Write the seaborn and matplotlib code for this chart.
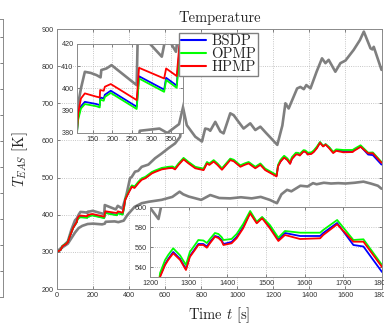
import numpy as np
import pandas as pd
import matplotlib
matplotlib.use("Agg")
import matplotlib.pyplot as plt
import seaborn as sns

# --- Data ---
# time grid shared by the three strategies [s]
TIME = [0, 20, 30, 50, 60, 70, 90, 110, 113, 120, 130, 160, 168, 169, 178, 181, 196,
        262, 268, 332, 337, 364, 372, 378, 396, 415, 430, 452, 470, 490, 526, 544,
        581, 618, 640, 655, 674, 702, 730, 767, 813, 832, 845, 869, 890, 915, 961,
        980, 1017, 1040, 1063, 1100, 1128, 1155, 1218, 1226, 1239, 1247, 1260, 1278,
        1293, 1303, 1316, 1325, 1338, 1347, 1355, 1368, 1377, 1385, 1390, 1411, 1424,
        1441, 1459, 1476, 1490, 1510, 1532, 1549, 1588, 1640, 1648, 1684, 1726, 1752,
        1800]

HPMP = [300, 305, 315, 321, 326, 340, 365, 381, 389, 395.5, 397.8, 396.3, 396, 399.3,
        399, 400.8, 402, 394.8, 409.3, 404.5, 409, 405.6, 422, 440, 458, 475, 472, 485,
        494, 498, 511, 515, 522, 525, 526, 522, 534, 549, 538, 525, 520, 538, 534, 543,
        534, 521, 547, 544, 529, 534, 538, 525, 534, 520, 503, 530, 542, 547, 553.7,
        547, 537, 550, 557, 562, 562, 559.3, 563.7, 570.3, 569, 566, 562, 563.7, 568.7,
        578.7, 593.7, 583.7, 588.7, 578.7, 566, 572, 568, 568.7, 572, 582.7, 565.3,
        565.3, 540]

OPMP = [300, 305, 316, 322, 327, 341, 365, 380, 386, 391, 393, 392, 391.5, 395, 394.5,
        396.2, 398, 390.8, 404.5, 398.5, 403.8, 400.3, 418, 442, 461, 479, 476, 489,
        498, 502, 515, 519, 526, 529, 530, 526, 538, 553, 542, 529, 524, 542, 538, 547,
        538, 525, 551, 548, 533, 538, 542, 529, 538, 524, 507, 534, 547, 552, 558.7,
        551.5, 542, 555, 562, 567, 566.5, 564, 568, 574, 573, 570, 567, 568, 573, 583,
        596, 585.3, 590, 582, 569.3, 576, 574.3, 574.3, 577, 587, 567, 567.7, 542]

BSDP = [300, 305, 315.5, 321.5, 326.5, 340.5, 365, 380.5, 387, 392, 394, 393, 392.5,
        396, 395.5, 397.2, 399, 391.8, 405.5, 399.5, 404.8, 401.3, 420, 441, 459.5, 477,
        474, 487, 496, 500, 513, 517, 524, 527, 528, 524, 536, 551, 540, 527, 522, 540,
        536, 545, 536, 523, 549, 546, 531, 536, 540, 527, 536, 522, 505, 531, 543, 548,
        555, 548, 538, 551, 558, 563, 563, 560.5, 565, 571, 570, 567, 563, 565, 570,
        580, 594.5, 584.5, 589.5, 580.5, 567.5, 574, 571, 571, 574, 584, 562, 560.5, 535]

# upper / lower grey bounds
UPPER_TIME = [0, 30, 60, 80, 100, 110, 120, 130, 145, 160, 170, 172, 185, 198, 262, 265,
              326, 337, 362, 368, 380, 387, 405, 415, 433, 450, 470, 507, 544, 581, 618,
              655, 683, 693, 698, 720, 767, 804, 822, 840, 850, 878, 906, 924, 961, 980,
              1007, 1035, 1072, 1100, 1128, 1160, 1222, 1250, 1267, 1285, 1332, 1350,
              1369, 1383, 1406, 1440, 1470, 1489, 1507, 1544, 1572, 1600, 1646, 1680,
              1702, 1739, 1750, 1757, 1800]
UPPER_TEMP = [300, 314, 328, 360, 385, 390, 400, 407.5, 407, 406, 405, 408.3, 409, 410.5,
              401.5, 426, 414.3, 424, 416.5, 425, 445, 458, 498, 502, 516, 518, 529, 535,
              552, 565, 579, 592, 610, 655, 691, 641, 610, 597, 632, 630, 626, 650, 624,
              619, 673, 668, 650, 632, 646, 628, 637, 620, 588, 640, 700, 686, 740, 744,
              738, 749, 740, 785, 821, 808, 817, 785, 808, 815, 844, 870, 893, 848, 845,
              852, 790]

LOWER_TIME = [0, 30, 60, 80, 100, 120, 140, 170, 200, 250, 265, 270, 320, 340, 370, 390,
              430, 470, 510, 580, 640, 680, 700, 730, 800, 850, 900, 960, 1020, 1080,
              1130, 1180, 1220, 1245, 1276, 1300, 1350, 1390, 1420, 1440, 1480, 1520,
              1560, 1600, 1650, 1700, 1740, 1780, 1800]
LOWER_TEMP = [300, 312, 322, 337, 352, 364, 370, 375, 376, 374, 376, 381, 382, 380, 384,
              399, 421, 431, 435, 440, 448, 462, 455, 449, 440, 453, 445, 444, 447, 444,
              448, 440, 431, 455, 467, 463, 478, 476, 485, 482, 486, 484, 485, 484, 486,
              489, 484, 478, 470]

SERIES = ["BSDP", "OPMP", "HPMP"]
COLORS = {"BSDP": "#0000ff", "OPMP": "#00ff00", "HPMP": "#ff0000"}
GRAY = "#7f7f7f"
SERIF = ["cmr10", "DejaVu Serif"]
SANS = ["Liberation Sans", "DejaVu Sans"]

# --- Style ---
sns.set_style("ticks")
plt.rcParams["font.family"] = SANS
plt.rcParams["mathtext.fontset"] = "cm"
plt.rcParams["axes.unicode_minus"] = False

df = pd.DataFrame({
    "t": TIME * 3,
    "T": BSDP + OPMP + HPMP,
    "method": ["BSDP"] * len(TIME) + ["OPMP"] * len(TIME) + ["HPMP"] * len(TIME),
})


def draw_series(ax, legend=False):
    """Grey bounds first, then the three strategies (red on top)."""
    sns.lineplot(x=UPPER_TIME, y=UPPER_TEMP, color=GRAY, lw=1.9, ax=ax,
                 estimator=None, legend=False)
    sns.lineplot(x=LOWER_TIME, y=LOWER_TEMP, color=GRAY, lw=1.9, ax=ax,
                 estimator=None, legend=False)
    sns.lineplot(data=df, x="t", y="T", hue="method", hue_order=SERIES,
                 palette=COLORS, lw=1.3, ax=ax, estimator=None, legend=legend)
    ax.set_xlabel("")
    ax.set_ylabel("")


def style_axes(ax):
    ax.grid(True, color="#b4b4b4", linestyle=":", linewidth=0.6)
    ax.tick_params(direction="in", length=2.2, width=0.5, colors="#555555",
                   labelcolor="#333333", labelsize=5.2, pad=2.5,
                   top=True, right=True)
    for sp in ax.spines.values():
        sp.set_color("#8a8a8a")
        sp.set_linewidth(0.7)


fig = plt.figure(figsize=(3.84, 3.24), dpi=100)
W, H = 384.0, 324.0

# sliver of the neighbouring panel at the very left
ax_side = fig.add_axes([-0.4, 1 - 297 / H, 0.4 + 3 / W, 278 / H])
ax_side.set_xlim(0, 1)
ax_side.set_ylim(0, 10.7)
ax_side.set_yticks(range(0, 11))
ax_side.set_xticks([])
style_axes(ax_side)
ax_side.tick_params(labelleft=False, labelright=False)

# main panel
ax = fig.add_axes([57 / W, 1 - 289 / H, 324.5 / W, 260 / H])
draw_series(ax, legend=True)
handles, labels = ax.get_legend_handles_labels()
if ax.get_legend() is not None:
    ax.get_legend().remove()
ax.set_xlim(0, 1800)
ax.set_ylim(200, 900)
ax.set_xticks(np.arange(0, 1801, 200))
ax.set_yticks(np.arange(200, 901, 100))
style_axes(ax)
ax.set_title("Temperature", family=SERIF, fontsize=10.5, pad=5)
ax.set_xlabel("Time $t$ [s]", family=SERIF, fontsize=10.5, labelpad=4)
ax.set_ylabel("$T_{EAS}$ [K]", family=SERIF, fontsize=10.5, labelpad=8)

# inset: start-up phase
ax_in1 = fig.add_axes([77 / W, 1 - 133 / H, 106 / W, 89 / H])
draw_series(ax_in1)
ax_in1.set_xlim(110, 380)
ax_in1.set_ylim(380, 420)
ax_in1.set_xticks(np.arange(150, 351, 50))
ax_in1.set_yticks(np.arange(380, 421, 10))
style_axes(ax_in1)

# inset: end phase
ax_in2 = fig.add_axes([150 / W, 1 - 277 / H, 232 / W, 70 / H])
draw_series(ax_in2)
ax_in2.set_xlim(1200, 1800)
ax_in2.set_ylim(530, 600)
ax_in2.set_xticks(np.arange(1200, 1801, 100))
ax_in2.set_yticks(np.arange(540, 601, 20))
style_axes(ax_in2)

order = [labels.index(s) for s in SERIES if s in labels]
leg = fig.legend([handles[i] for i in order], [labels[i] for i in order],
                 loc="upper left", bbox_to_anchor=(179 / W, 1 - 33 / H),
                 bbox_transform=fig.transFigure, borderaxespad=0,
                 prop={"family": SERIF, "size": 10.5}, fancybox=False,
                 framealpha=1, edgecolor="#808080", handlelength=1.7,
                 handletextpad=0.4, labelspacing=-0.05, borderpad=0.12)
leg.get_frame().set_linewidth(1.0)
for line in leg.get_lines():
    line.set_linewidth(1.5)

fig.savefig("out.png", dpi=100)
